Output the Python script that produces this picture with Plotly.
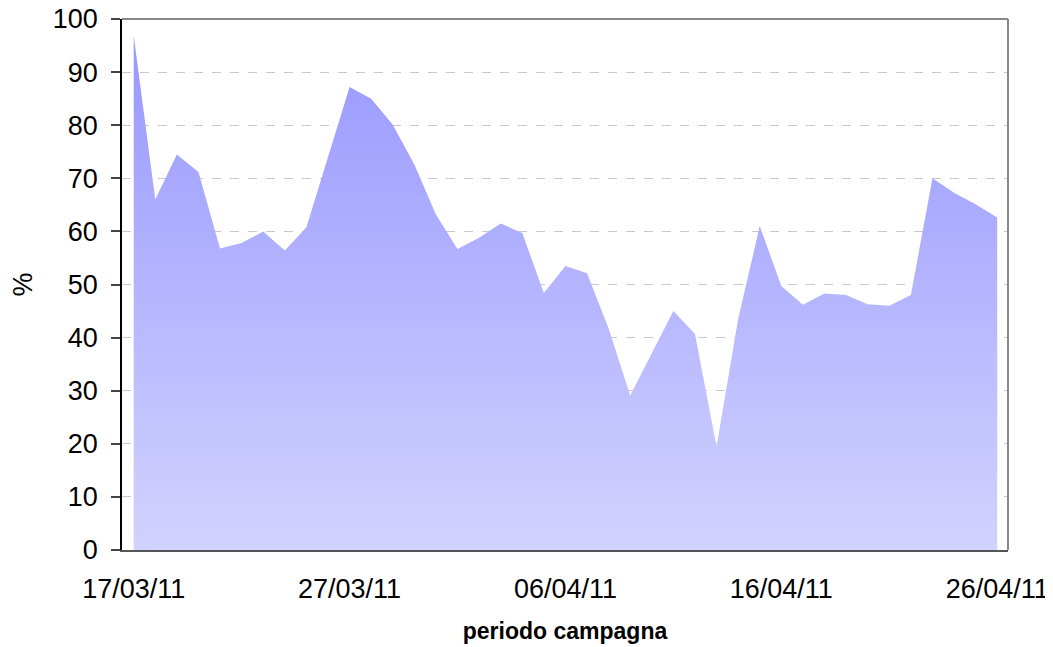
import plotly.graph_objects as go
import pandas as pd

start_date = "2011-03-17"
n_days = 41
dates = pd.date_range(start_date, periods=n_days, freq="D")

values = [96.9, 66.0, 74.5, 71.2, 56.8, 57.8, 60.0, 56.4, 60.8, 74.0,
          87.2, 85.0, 80.1, 72.6, 63.2, 56.7, 58.8, 61.5, 59.7, 48.4,
          53.5, 52.1, 41.7, 29.1, 37.1, 45.0, 40.7, 19.5, 43.5, 61.0,
          49.7, 46.2, 48.3, 48.0, 46.3, 46.0, 48.0, 70.0, 67.3, 65.1,
          62.6]

tick_dates = ["2011-03-17", "2011-03-27", "2011-04-06", "2011-04-16", "2011-04-26"]
tick_labels = ["17/03/11", "27/03/11", "06/04/11", "16/04/11", "26/04/11"]
y_ticks = list(range(0, 101, 10))

fig = go.Figure()
fig.add_trace(go.Scatter(
    x=dates, y=values, mode="lines", line=dict(width=0, color="#9999FF"),
    fill="tozeroy",
    fillgradient=dict(type="vertical",
                      colorscale=[[0, "#D2D2FF"], [1, "#9696FF"]],
                      start=0, stop=100),
    hoverinfo="x+y", showlegend=False,
))

font_family = "Liberation Sans, Arial, sans-serif"

fig.update_layout(
    width=1045, height=639,
    margin=dict(l=114, r=45, t=11, b=97),
    plot_bgcolor="white", paper_bgcolor="white",
    font=dict(family=font_family, color="black"),
    xaxis=dict(
        type="date", automargin=False,
        range=[pd.Timestamp(start_date) - pd.Timedelta(hours=13),
               pd.Timestamp(dates[-1]) + pd.Timedelta(hours=12)],
        tickvals=tick_dates, ticktext=tick_labels,
        tickfont=dict(size=27, family=font_family, color="black"),
        showgrid=False, zeroline=False,
        showline=True, linecolor="#555555", linewidth=1.5,
        ticks="", ticklabelstandoff=14, ticklabeloverflow="allow",
        title=dict(text="<b>periodo campagna</b>", font=dict(size=23, family=font_family, color="black"),
                   standoff=20),
    ),
    yaxis=dict(
        range=[0, 100], automargin=False,
        tickvals=y_ticks,
        tickfont=dict(size=27, family=font_family, color="black"),
        showgrid=True, gridcolor="#C8C8C8", griddash="dash", gridwidth=1,
        zeroline=False,
        showline=True, linecolor="black", linewidth=1.5,
        ticks="outside", ticklen=9, tickcolor="#444444", tickwidth=1.5,
        ticklabelstandoff=8, ticklabeloverflow="allow",
        title=dict(text="%", font=dict(size=27, family=font_family, color="black"), standoff=16),
    ),
    shapes=[
        dict(type="line", xref="paper", yref="paper", x0=0, x1=1, y0=1, y1=1,
             line=dict(color="#888888", width=2), layer="above"),
        dict(type="line", xref="paper", yref="paper", x0=1, x1=1, y0=0, y1=1,
             line=dict(color="#888888", width=2), layer="above"),
    ],
)

fig.write_html("out.html")
